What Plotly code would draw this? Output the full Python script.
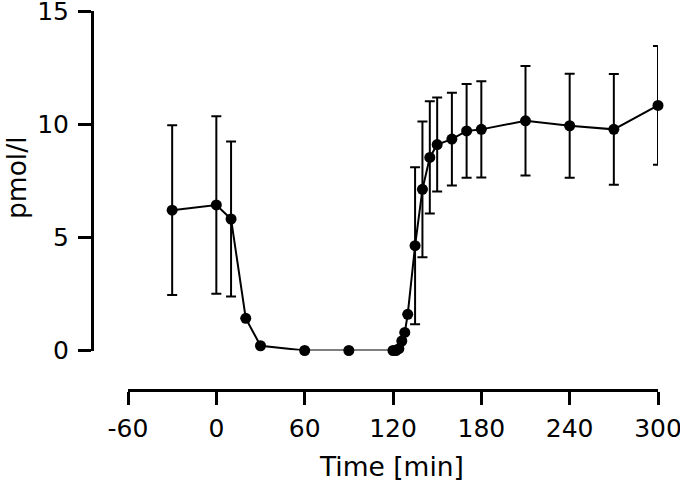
import plotly.graph_objects as go

time_min = [-30, 0, 10, 20, 30, 60, 90, 120, 122, 124, 126, 128, 130, 135, 140, 145,
            150, 160, 170, 180, 210, 240, 270, 300]
conc = [6.2, 6.43, 5.81, 1.42, 0.21, 0.0, 0.0, 0.0, 0.0, 0.08, 0.42, 0.8, 1.6, 4.63,
        7.12, 8.53, 9.1, 9.34, 9.7, 9.77, 10.15, 9.93, 9.77, 10.83]
err = [3.75, 3.92, 3.42, 0, 0, 0, 0, 0, 0, 0, 0, 0, 0, 3.47, 3.0, 2.48,
       2.08, 2.05, 2.07, 2.13, 2.42, 2.3, 2.45, 2.62]
x_ticks = [-60, 0, 60, 120, 180, 240, 300]
y_ticks = [0, 5, 10, 15]

W, H = 680, 486
ml, mr, mt, mb = 92, 22, 11, 96
pw = W - ml - mr
ph = H - mt - mb

fig = go.Figure()
fig.add_trace(go.Scatter(
    x=time_min, y=conc, mode="lines+markers",
    line=dict(color="black", width=2),
    marker=dict(color="black", size=11),
    error_y=dict(type="data", array=err, visible=True, thickness=2, width=5, color="black"),
    cliponaxis=False, showlegend=False,
))

FAM = "DejaVu Sans, Liberation Sans, Arial, sans-serif"
fig.update_layout(
    width=W, height=H,
    margin=dict(l=ml, r=mr, t=mt, b=mb, autoexpand=False),
    paper_bgcolor="white", plot_bgcolor="white",
    font=dict(family=FAM, color="black"),
    xaxis=dict(
        domain=[(128 - ml) / pw, 1], range=[-60, 300], anchor="free", position=0,
        tickvals=x_ticks, ticktext=[str(v) for v in x_ticks],
        showline=True, linecolor="black", linewidth=3,
        ticks="outside", ticklen=13, tickwidth=3, tickcolor="black",
        showgrid=False, zeroline=False, automargin=False,
        ticklabeloverflow="allow", ticklabelstandoff=2,
        tickfont=dict(size=25, family=FAM),
    ),
    yaxis=dict(
        domain=[(390 - 350.5) / ph, 1], range=[0, 15], anchor="free", position=0,
        tickvals=y_ticks, ticktext=[str(v) for v in y_ticks],
        showline=True, linecolor="black", linewidth=3,
        ticks="outside", ticklen=13, tickwidth=3, tickcolor="black",
        showgrid=False, zeroline=False, automargin=False,
        ticklabeloverflow="allow", ticklabelstandoff=4,
        tickfont=dict(size=25, family=FAM),
    ),
    annotations=[
        dict(text="Time [min]", x=391, y=466, showarrow=False,
             font=dict(size=26.5, family=FAM)),
        dict(text="pmol/l", x=16, y=178, textangle=-90, showarrow=False,
             font=dict(size=26.5, family=FAM)),
    ],
)
# convert pixel anchors of the annotations into paper fractions
for a in fig.layout.annotations:
    a.x = (a.x - ml) / pw
    a.y = (H - mb - a.y) / ph
    a.xanchor = "center"
    a.yanchor = "middle"
    a.xref = "paper"
    a.yref = "paper"
fig.write_html("out.html", config={"displayModeBar": False},
               post_script="document.body.style.margin='0';")
